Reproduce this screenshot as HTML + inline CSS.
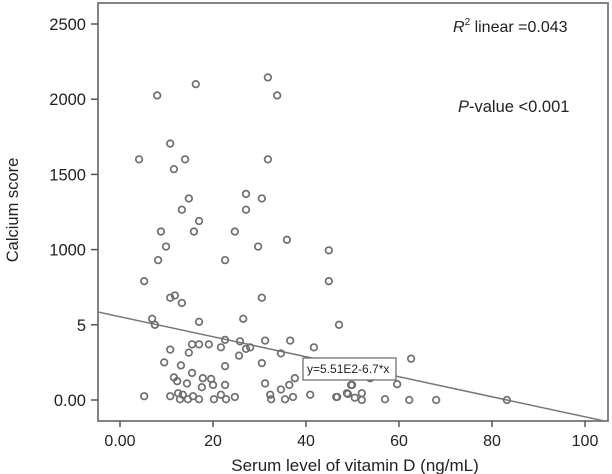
<!DOCTYPE html>
<html><head><meta charset="utf-8"><style>
body{margin:0;background:#fff}
svg{display:block;font-family:"Liberation Sans",Arial,sans-serif}
</style></head><body>
<svg id="chart" width="612" height="474"></svg>
<script>
const xTicks=[0,20,40,60,80,100];
const xTickLabels=["0.00","20","40","60","80","100"];
const yTicks=[0,1,2,3,4,5];
const yTickLabels=["0.00","5","1000","1500","2000","2500"];
const xVals=[8.0,16.3,31.8,33.8,10.8,4.1,14.0,11.6,31.8,14.8,27.1,30.5,13.3,27.1,17.0,8.8,15.9,24.7,9.9,29.7,35.9,44.9,8.2,22.6,
5.2,44.9,10.8,11.8,13.3,30.5,6.9,7.5,17.0,26.5,47.1,
10.8,14.8,15.5,17.0,19.1,21.7,22.6,25.8,27.1,28.0,25.6,31.2,36.6,34.6,41.7,62.6,
9.5,13.1,22.6,30.5,15.5,11.6,12.3,14.4,17.8,19.6,17.6,20.0,22.6,31.2,34.6,36.4,37.6,53.8,49.7,59.6,
5.2,10.8,12.5,12.9,13.5,14.6,15.7,17.0,20.2,21.7,22.8,24.7,32.3,32.5,35.5,37.2,40.9,46.5,48.8,49.9,50.5,46.7,49.0,52.0,52.0,57.0,62.2,68.0,83.2];
const yVals=[4.05,4.20,4.29,4.05,3.41,3.20,3.20,3.07,3.20,2.68,2.74,2.68,2.53,2.53,2.38,2.24,2.24,2.24,2.04,2.04,2.13,1.99,1.86,1.86,
1.58,1.58,1.36,1.39,1.29,1.36,1.08,1.00,1.04,1.08,1.00,
0.67,0.63,0.74,0.74,0.74,0.70,0.80,0.78,0.68,0.70,0.59,0.79,0.79,0.62,0.70,0.55,
0.50,0.46,0.45,0.49,0.36,0.30,0.25,0.22,0.29,0.28,0.17,0.20,0.20,0.22,0.14,0.20,0.29,0.29,0.20,0.21,
0.05,0.05,0.09,0.01,0.07,0.01,0.05,0.01,0.01,0.07,0.01,0.04,0.07,0.01,0.01,0.04,0.07,0.04,0.09,0.20,0.03,0.04,0.08,0.09,0.00,0.01,0.00,0.00,0.00];
const fitIntercept=1.107;
const fitSlope=-0.0133;

const NS="http://www.w3.org/2000/svg";
const svg=document.getElementById('chart');
const L=98,R=608,T=3,B=421;
const sx=v=>120+v*4.65;
const sy=v=>400-v*75.2;
function mk(tag,attrs,parent){const e=document.createElementNS(NS,tag);for(const k in attrs)e.setAttribute(k,attrs[k]);(parent||svg).appendChild(e);return e;}
const defs=mk('clipPath',{id:'clip'});mk('rect',{x:L,y:T,width:R-L,height:B-T},defs);

const frame=mk('rect',{x:L,y:T,width:R-L,height:B-T,fill:'none',stroke:'#777','stroke-width':1.8});



xTicks.forEach((t,i)=>{
  const tk=mk('line',{x1:sx(t),x2:sx(t),y1:B,y2:B+6,stroke:'#555','stroke-width':1.5});
  
  
  const lb=mk('text',{x:sx(t),y:B+25,'text-anchor':'middle','font-size':16,fill:'#222'});
  lb.textContent=xTickLabels[i];
  
  
});
yTicks.forEach((t,i)=>{
  const tk=mk('line',{x1:L-7,x2:L,y1:sy(t),y2:sy(t),stroke:'#555','stroke-width':1.5});
  
  
  const lb=mk('text',{x:L-12,y:sy(t)+6,'text-anchor':'end','font-size':16.5,fill:'#222'});
  lb.textContent=yTickLabels[i];
  
  
});

const g=mk('g',{'clip-path':'url(#clip)'});
const x0=(L-120)/4.65,x1=(R-120)/4.65;
const fit=mk('line',{x1:sx(x0),y1:sy(fitIntercept+fitSlope*x0),x2:sx(x1),y2:sy(fitIntercept+fitSlope*x1),stroke:'#777','stroke-width':1.5},g);



xVals.forEach((x,i)=>{
  const c=mk('circle',{cx:sx(x),cy:sy(yVals[i]),r:3.3,fill:'none',stroke:'#6e6e6e','stroke-width':1.7},g);
  
  
});
</script>
<svg style="position:absolute;left:0;top:0" width="612" height="474">
<g>
<rect x="303" y="358" width="93" height="22" fill="#fff" stroke="#666" stroke-width="1.2"/>
<text x="307" y="373" font-size="12" fill="#222" font-family="Liberation Sans,sans-serif">y=5.51E2-6.7*x</text>
</g>
<text x="453" y="32" font-size="16" fill="#222" font-family="Liberation Sans,sans-serif"><tspan font-style="italic">R</tspan><tspan font-size="10" dy="-7">2</tspan><tspan dy="7"> linear =0.043</tspan></text>
<text x="458" y="112" font-size="16.5" fill="#222" font-family="Liberation Sans,sans-serif"><tspan font-style="italic">P</tspan>-value &lt;0.001</text>
<text x="355" y="471" text-anchor="middle" font-size="17" fill="#222" font-family="Liberation Sans,sans-serif">Serum level of vitamin D (ng/mL)</text>
<text transform="translate(18,210) rotate(-90)" text-anchor="middle" font-size="16.5" fill="#222" font-family="Liberation Sans,sans-serif">Calcium score</text>
</svg>
</body></html>
